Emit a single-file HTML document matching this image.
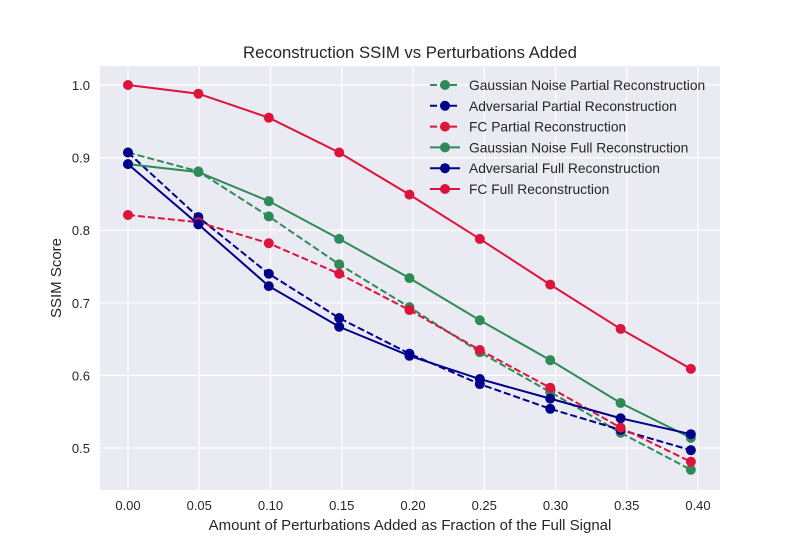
<!DOCTYPE html>
<html><head><meta charset="utf-8"><style>
body{margin:0;background:#fff;font-family:"Liberation Sans",sans-serif}
svg text{font-family:"Liberation Sans",sans-serif}
</style></head><body>
<svg id="chart" width="800" height="550">
<rect x="0" y="0" width="800" height="550" fill="#fff"/>
<rect x="100" y="66" width="620" height="424" fill="#eaeaf2"/>
<g id="grid"></g><g id="series"></g><g id="ticks"></g>
<text x="410" y="58" text-anchor="middle" font-size="16.7" fill="#262626">Reconstruction SSIM vs Perturbations Added</text>
<text x="410" y="530" text-anchor="middle" font-size="15" fill="#262626">Amount of Perturbations Added as Fraction of the Full Signal</text>
<text x="61" y="278" text-anchor="middle" font-size="15" fill="#262626" transform="rotate(-90 61 278)">SSIM Score</text>
<g id="legend"></g>
</svg>
<script>
const xValues=[0,0.0494,0.0988,0.1482,0.1975,0.2469,0.2963,0.3457,0.395];
const xTicks=[0,0.05,0.10,0.15,0.20,0.25,0.30,0.35,0.40];
const yTicks=[0.5,0.6,0.7,0.8,0.9,1.0];
const seriesNames=["Gaussian Noise Partial Reconstruction","Adversarial Partial Reconstruction","FC Partial Reconstruction","Gaussian Noise Full Reconstruction","Adversarial Full Reconstruction","FC Full Reconstruction"];
const gaussPartial=[0.907,0.881,0.819,0.753,0.694,0.632,0.577,0.521,0.470];
const advPartial=[0.907,0.818,0.740,0.679,0.630,0.588,0.554,0.525,0.497];
const fcPartial=[0.821,0.811,0.782,0.740,0.690,0.635,0.583,0.528,0.481];
const gaussFull=[0.891,0.880,0.840,0.788,0.734,0.676,0.621,0.562,0.514];
const advFull=[0.891,0.808,0.723,0.667,0.627,0.595,0.568,0.541,0.519];
const fcFull=[1.0,0.988,0.955,0.907,0.849,0.788,0.725,0.664,0.609];
const colors=["#2e8b57","#00008b","#dc143c","#2e8b57","#00008b","#dc143c"];
const dashed=[true,true,true,false,false,false];
const allSeries=[gaussPartial,advPartial,fcPartial,gaussFull,advFull,fcFull];
const NS="http://www.w3.org/2000/svg";
const X=v=>128+(v-0)/0.40*570;
const Y=v=>448-(v-0.5)/0.5*363;
function mk(tag,attrs,parent){const e=document.createElementNS(NS,tag);for(const k in attrs)e.setAttribute(k,attrs[k]);parent.appendChild(e);return e;}
const grid=document.getElementById('grid'),ticks=document.getElementById('ticks');
xTicks.forEach(t=>{
 const l=mk('line',{x1:X(t),x2:X(t),y1:66,y2:490,stroke:'#fff','stroke-width':1.2},grid);
 
 
 const tx=mk('text',{x:X(t),y:510,'text-anchor':'middle','font-size':13,fill:'#262626'},ticks);
 tx.textContent=t.toFixed(2);
 
 
});
yTicks.forEach(t=>{
 const l=mk('line',{x1:100,x2:720,y1:Y(t),y2:Y(t),stroke:'#fff','stroke-width':1.2},grid);
 
 
 const tx=mk('text',{x:90,y:Y(t)+5,'text-anchor':'end','font-size':13,fill:'#262626'},ticks);
 tx.textContent=t.toFixed(1);
 
 
});
const sg=document.getElementById('series');
allSeries.forEach((d,i)=>{
 const g=mk('g',{},sg);
 
 
 const p=mk('polyline',{points:d.map((v,j)=>X(xValues[j])+','+Y(v)).join(' '),fill:'none',stroke:colors[i],'stroke-width':2,'stroke-dasharray':dashed[i]?'7,3':'none'},g);
 
 
 d.forEach((v,j)=>{
  const c=mk('circle',{cx:X(xValues[j]),cy:Y(v),r:5,fill:colors[i]},g);
  
  
 });
});
const lg=document.getElementById('legend');
seriesNames.forEach((n,i)=>{
 const y=85+i*20.8;
 const g=mk('g',{},lg);
 
 
 mk('line',{x1:430,x2:460,y1:y,y2:y,stroke:colors[i],'stroke-width':2,'stroke-dasharray':dashed[i]?'7,3':'none'},g);
 mk('circle',{cx:445,cy:y,r:5,fill:colors[i]},g);
 const t=mk('text',{x:469,y:y+5,'font-size':13.8,fill:'#262626'},g);
 t.textContent=n;
});
</script>
</body></html>
